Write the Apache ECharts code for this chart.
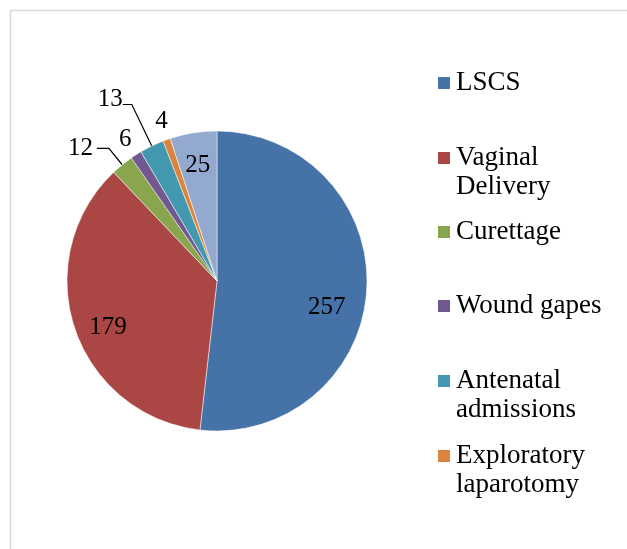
<!DOCTYPE html>
<html>
<head>
<meta charset="utf-8">
<title>Cases</title>
<script src="https://cdn.jsdelivr.net/npm/echarts@6/dist/echarts.min.js"></script>
<style>html, body { margin: 0; background: #fff; }</style>
</head>
<body>
<div id="main" style="width: 627px; height: 549px;"></div>
<script type="text/javascript">
// data
var categories = ['LSCS', 'Vaginal Delivery', 'Curettage', 'Wound gapes', 'Antenatal admissions', 'Exploratory laparotomy', 'Others'];
var values = [257, 179, 12, 6, 13, 4, 25];
// legend shows only the first six, wrapped as in the picture
var legendNames = categories.slice(0, 6);
var legendLines = [['LSCS'], ['Vaginal', 'Delivery'], ['Curettage'], ['Wound gapes'], ['Antenatal', 'admissions'], ['Exploratory', 'laparotomy']];

var colors = ['#4572A7', '#AA4643', '#89A54E', '#71588F', '#4198AF', '#DB843D', '#93A9CF'];
var font = '"Liberation Serif", "Times New Roman", serif';

// how each value label sits (inside, or outside with/without a leader line)
var labelStyle = [
    { pos: 'inside', dx: 32, dy: 22 },
    { pos: 'inside', dx: -35, dy: 22 },
    { pos: 'outside', line: true, len: 21, len2: 12 },
    { pos: 'outside', line: false, len: 14, len2: 0, dx: 3, dy: -3 },
    { pos: 'outside', line: true, len: 46, len2: 9, dx: 4, dy: -5 },
    { pos: 'outside', line: false, len: 21, len2: 0, dx: 8, dy: 2 },
    { pos: 'inside', dx: -7, dy: -39 }
];
var legendCenters = [84, 159, 233, 307, 382, 457];

var drawChart = function () {
    var myChart = echarts.init(document.getElementById('main'));

    var data = categories.map(function (name, i) {
        var s = labelStyle[i];
        var item = { name: name, value: values[i], label: { position: s.pos } };
        if (s.pos === 'outside') {
            item.label.distanceToLabelLine = s.line ? 4 : 0;
            item.labelLine = { show: s.line, length: s.len, length2: s.len2 };
        }
        return item;
    });

    var legends = legendNames.map(function (name, i) {
        return {
            orient: 'vertical',
            left: 436,
            top: legendCenters[i] - 14.5,
            padding: 0,
            icon: 'rect',
            itemWidth: 14,
            itemHeight: 14,
            data: [name],
            // rich text with a one-line box, so the square sits by the first line
            formatter: function () {
                return legendLines[i].map(function (t) { return '{t|' + t + '}'; }).join('\n');
            },
            textStyle: {
                height: 29,
                rich: {
                    t: { fontFamily: font, fontSize: 27, lineHeight: 29, color: '#000' }
                }
            }
        };
    });

    var option = {
        color: colors,
        animation: false,
        graphic: [{
            type: 'rect',
            shape: { x: 10.5, y: 10.5, width: 800, height: 800 },
            style: { fill: 'none', stroke: '#d9d9d9', lineWidth: 1.5 },
            silent: true
        }],
        legend: legends,
        series: [{
            type: 'pie',
            center: [217, 281],
            radius: 150,
            startAngle: 90,
            clockwise: true,
            avoidLabelOverlap: false,
            itemStyle: { borderColor: '#fff', borderWidth: 0.5 },
            label: {
                fontFamily: font,
                fontSize: 25,
                color: '#000',
                formatter: '{c}'
            },
            labelLine: {
                lineStyle: { color: '#000', width: 1.2 }
            },
            labelLayout: function (p) {
                var s = labelStyle[p.dataIndex];
                if (s.dx === undefined) return {};
                return { dx: s.dx, dy: s.dy };
            },
            emphasis: { disabled: true },
            data: data
        }]
    };
    myChart.setOption(option);
};

drawChart();
</script>
</body>
</html>
